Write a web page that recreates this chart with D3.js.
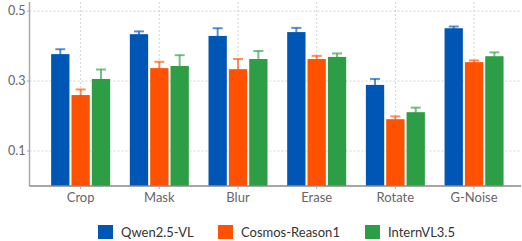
<!DOCTYPE html>
<html>
<head>
<meta charset="utf-8">
<script src="https://cdn.jsdelivr.net/npm/d3@7.9.0/dist/d3.min.js"></script>
<style>
  body { margin: 0; background: #fff; }
  svg { display: block; font-family: Lato, "Open Sans", sans-serif; }
</style>
</head>
<body>
<svg id="chart" width="522" height="241"></svg>
<script>
const categories = ['Crop', 'Mask', 'Blur', 'Erase', 'Rotate', 'G-Noise'];
const models = ['Qwen2.5-VL', 'Cosmos-Reason1', 'InternVL3.5'];
const colors = ['#0056b5', '#ff5100', '#2d9e45'];

// mean scores per model (same order as categories)
const qwen = [0.377, 0.434, 0.429, 0.440, 0.289, 0.451];
const cosmos = [0.260, 0.337, 0.334, 0.363, 0.191, 0.354];
const intern = [0.306, 0.343, 0.363, 0.369, 0.211, 0.371];
// error (half-width)
const qwenErr = [0.014, 0.008, 0.022, 0.012, 0.017, 0.005];
const cosmosErr = [0.016, 0.018, 0.029, 0.009, 0.008, 0.005];
const internErr = [0.027, 0.031, 0.023, 0.010, 0.013, 0.011];
const yTicks = [0.1, 0.3, 0.5];

const series = [qwen, cosmos, intern];
const errors = [qwenErr, cosmosErr, internErr];

const svg = d3.select('#chart');
const mLeft = 29.5, mRight = 521, mTop = 2, mBottom = 186;

const x = d3.scaleBand().domain(categories).range([41.3, 513.4]).padding(0);
const y = d3.scaleLinear().domain([0, 0.526]).range([mBottom, mTop]);
const sub = d3.scaleBand().domain(d3.range(3)).range([-29.5, 29.5]).paddingInner(0.1);

// grid
const grid = svg.append('g').attr('stroke', '#d4d4d4').attr('stroke-dasharray', '2,2').attr('stroke-width', 1);
yTicks.forEach(t => {
  grid.append('line').attr('x1', mLeft).attr('x2', mRight).attr('y1', y(t)).attr('y2', y(t));
});
categories.forEach(c => {
  const cx = x(c) + x.bandwidth() / 2;
  grid.append('line').attr('x1', cx).attr('x2', cx).attr('y1', mTop).attr('y2', mBottom);
});

// bars + error bars
series.forEach((vals, s) => {
  const g = svg.append('g');
  vals.forEach((v, i) => {
    const cx = x(categories[i]) + x.bandwidth() / 2;
    const bx = cx + sub(s);
    const mid = bx + sub.bandwidth() / 2;
    const e = errors[s][i];
    const eg = g.append('g').attr('stroke', colors[s]).attr('stroke-opacity', 0.65).attr('stroke-width', 2);
    eg.append('line').attr('x1', mid).attr('x2', mid).attr('y1', y(v - e)).attr('y2', y(v + e));
    eg.append('line').attr('x1', mid - 5).attr('x2', mid + 5).attr('y1', y(v + e)).attr('y2', y(v + e));
    g.append('rect')
      .attr('x', bx).attr('width', sub.bandwidth())
      .attr('y', y(v)).attr('height', mBottom - y(v))
      .attr('fill', colors[s]);
  });
});

// axes
svg.append('line').attr('x1', mLeft).attr('x2', mLeft).attr('y1', mTop).attr('y2', mBottom)
  .attr('stroke', '#aaa').attr('stroke-width', 1.5);
svg.append('line').attr('x1', mLeft).attr('x2', mRight).attr('y1', mBottom).attr('y2', mBottom)
  .attr('stroke', '#888').attr('stroke-width', 1.5);

yTicks.forEach(t => {
  svg.append('line').attr('x1', mLeft - 2.5).attr('x2', mLeft).attr('y1', y(t)).attr('y2', y(t))
    .attr('stroke', '#aaa').attr('stroke-width', 1);
  svg.append('text').attr('x', mLeft - 4).attr('y', y(t)).attr('dy', '0.35em')
    .attr('text-anchor', 'end').attr('font-size', 12.5).attr('fill', '#666')
    .text(t.toFixed(1));
});
categories.forEach(c => {
  const cx = x(c) + x.bandwidth() / 2;
  svg.append('line').attr('x1', cx).attr('x2', cx).attr('y1', mBottom).attr('y2', mBottom + 3)
    .attr('stroke', '#aaa').attr('stroke-width', 1);
  svg.append('text').attr('x', cx).attr('y', 197).attr('dy', '0.35em')
    .attr('text-anchor', 'middle').attr('font-size', 13).attr('fill', '#666')
    .text(c);
});

// legend
const legendX = [98, 218, 365];
models.forEach((m, i) => {
  const lg = svg.append('g').attr('transform', `translate(${legendX[i]},225)`);
  lg.append('rect').attr('width', 15).attr('height', 14).attr('fill', colors[i]);
  lg.append('text').attr('x', 23).attr('y', 7).attr('dy', '0.35em')
    .attr('font-size', 13).attr('fill', '#333').text(m);
});
</script>
</body>
</html>
